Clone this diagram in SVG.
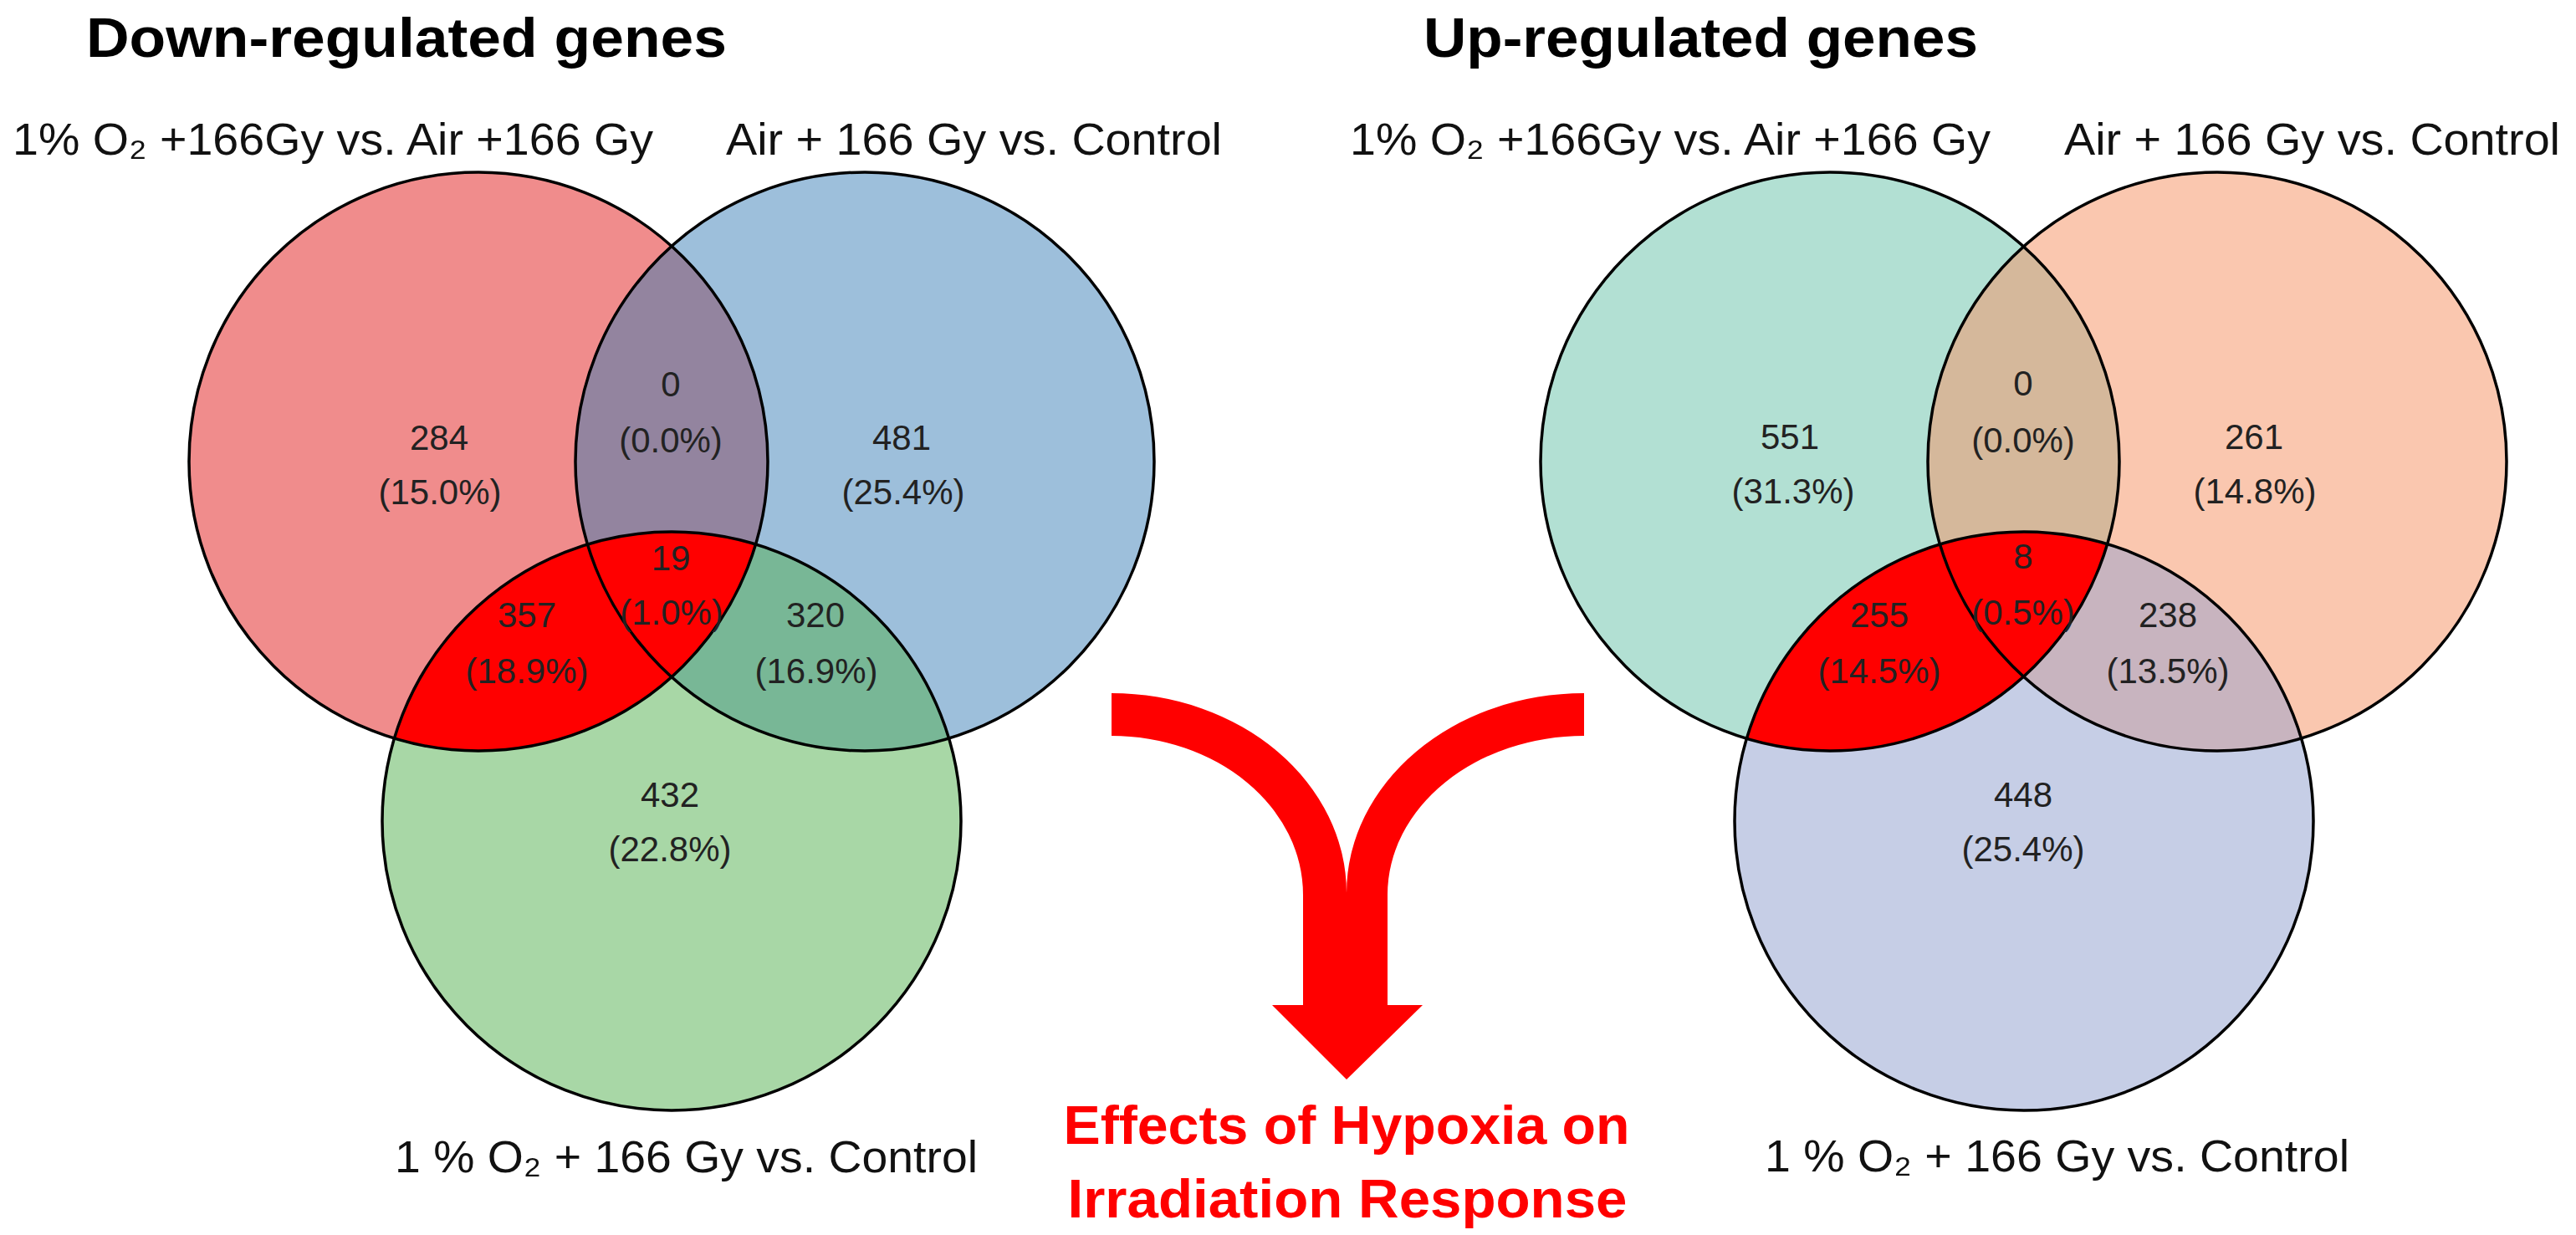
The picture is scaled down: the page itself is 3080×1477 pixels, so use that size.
<svg xmlns="http://www.w3.org/2000/svg" width="3080" height="1477" viewBox="0 0 3080 1477">
<style>
text{font-family:"Liberation Sans",Arial,sans-serif}
.title{font-size:66px;font-weight:bold;fill:#000}
.lab{font-size:54px;fill:#111}
.num{font-size:42px;fill:#222;text-anchor:middle}
.ring{fill:none;stroke:#000;stroke-width:3.5}
.eff{font-size:64px;font-weight:bold;fill:#ff0000;text-anchor:middle}
</style>
<defs>
<clipPath id="cA"><circle cx="572" cy="552" r="346"/></clipPath>
<clipPath id="cB"><circle cx="1034" cy="552" r="346"/></clipPath>
<clipPath id="cD"><circle cx="2188" cy="552" r="346"/></clipPath>
<clipPath id="cE"><circle cx="2651" cy="552" r="346"/></clipPath>
</defs>
<rect width="3080" height="1477" fill="#fff"/>

<text class="title" x="103" y="68" textLength="766" lengthAdjust="spacingAndGlyphs">Down-regulated genes</text>
<text class="title" x="1702" y="68" textLength="663" lengthAdjust="spacingAndGlyphs">Up-regulated genes</text>

<g id="down-venn">
<g id="down-set-a">
<circle cx="572" cy="552" r="346" fill="#F08C8C"/>
</g>
<g id="down-set-b">
<circle cx="1034" cy="552" r="346" fill="#9DBFDB"/>
</g>
<g id="down-set-c">
<circle cx="803" cy="982" r="346" fill="#A8D7A6"/>
</g>
<circle cx="1034" cy="552" r="346" fill="#93849F" clip-path="url(#cA)"/>
<circle cx="803" cy="982" r="346" fill="#78B796" clip-path="url(#cB)"/>
<circle cx="803" cy="982" r="346" fill="#FF0000" clip-path="url(#cA)"/>
<circle class="ring" cx="572" cy="552" r="346"/>
<circle class="ring" cx="1034" cy="552" r="346"/>
<circle class="ring" cx="803" cy="982" r="346"/>
<text class="lab" x="15" y="185" textLength="766" lengthAdjust="spacingAndGlyphs">1% O₂ +166Gy vs. Air +166 Gy</text>
<text class="lab" x="868" y="185" textLength="593" lengthAdjust="spacingAndGlyphs">Air + 166 Gy vs. Control</text>
<text class="lab" x="472" y="1402" textLength="697" lengthAdjust="spacingAndGlyphs">1 % O₂ + 166 Gy vs. Control</text>
<text class="num" x="525" y="538">284</text>
<text class="num" x="526" y="603">(15.0%)</text>
<text class="num" x="802" y="474">0</text>
<text class="num" x="802" y="541">(0.0%)</text>
<text class="num" x="1078" y="538">481</text>
<text class="num" x="1080" y="603">(25.4%)</text>
<text class="num" x="802" y="682">19</text>
<text class="num" x="803" y="747">(1.0%)</text>
<text class="num" x="630" y="750">357</text>
<text class="num" x="630" y="817">(18.9%)</text>
<text class="num" x="975" y="750">320</text>
<text class="num" x="976" y="817">(16.9%)</text>
<text class="num" x="801" y="965">432</text>
<text class="num" x="801" y="1030">(22.8%)</text>
</g>

<g id="up-venn">
<g id="up-set-a">
<circle cx="2188" cy="552" r="346" fill="#B2E0D3"/>
</g>
<g id="up-set-b">
<circle cx="2651" cy="552" r="346" fill="#FAC7AF"/>
</g>
<g id="up-set-c">
<circle cx="2420" cy="982" r="346" fill="#C6CEE6"/>
</g>
<circle cx="2651" cy="552" r="346" fill="#D5B89B" clip-path="url(#cD)"/>
<circle cx="2420" cy="982" r="346" fill="#C8B4BF" clip-path="url(#cE)"/>
<circle cx="2420" cy="982" r="346" fill="#FF0000" clip-path="url(#cD)"/>
<circle class="ring" cx="2188" cy="552" r="346"/>
<circle class="ring" cx="2651" cy="552" r="346"/>
<circle class="ring" cx="2420" cy="982" r="346"/>
<text class="lab" x="1614" y="185" textLength="766" lengthAdjust="spacingAndGlyphs">1% O₂ +166Gy vs. Air +166 Gy</text>
<text class="lab" x="2468" y="185" textLength="593" lengthAdjust="spacingAndGlyphs">Air + 166 Gy vs. Control</text>
<text class="lab" x="2110" y="1401" textLength="699" lengthAdjust="spacingAndGlyphs">1 % O₂ + 166 Gy vs. Control</text>
<text class="num" x="2140" y="537">551</text>
<text class="num" x="2144" y="602">(31.3%)</text>
<text class="num" x="2419" y="473">0</text>
<text class="num" x="2419" y="541">(0.0%)</text>
<text class="num" x="2695" y="537">261</text>
<text class="num" x="2696" y="602">(14.8%)</text>
<text class="num" x="2419" y="680">8</text>
<text class="num" x="2419" y="747">(0.5%)</text>
<text class="num" x="2247" y="750">255</text>
<text class="num" x="2247" y="817">(14.5%)</text>
<text class="num" x="2592" y="750">238</text>
<text class="num" x="2592" y="817">(13.5%)</text>
<text class="num" x="2419" y="965">448</text>
<text class="num" x="2419" y="1030">(25.4%)</text>
</g>

<g id="connectors">
<path fill="#ff0000" d="M1329,829 A281,239 0 0 1 1610,1068 A284,239 0 0 1 1894,829 L1894,880 A235,190 0 0 0 1659,1070 L1659,1202 L1701,1202 L1610,1291 L1521,1202 L1558,1202 L1558,1070 A229,190 0 0 0 1329,880 Z"/>
</g>

<g id="result">
<text class="eff" x="1610" y="1368" textLength="677" lengthAdjust="spacingAndGlyphs">Effects of Hypoxia on</text>
<text class="eff" x="1611" y="1456" textLength="669" lengthAdjust="spacingAndGlyphs">Irradiation Response</text>
</g>
</svg>
